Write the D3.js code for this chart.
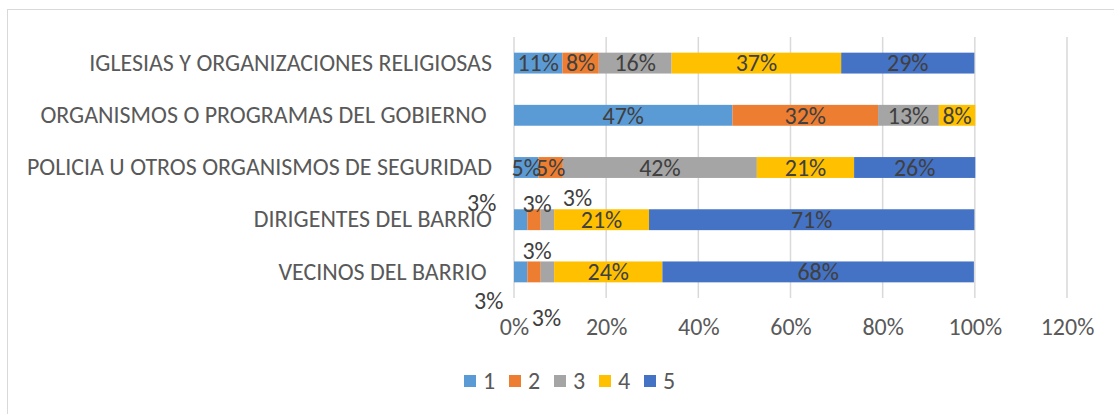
<!DOCTYPE html>
<html>
<head>
<meta charset="utf-8">
<script src="https://cdn.jsdelivr.net/npm/d3@7"></script>
<style>
  body { margin: 0; background: #fff; }
  svg { display: block; }
  text { font-family: Carlito, Calibri, Lato, sans-serif; white-space: pre; }
</style>
</head>
<body>
<script>
// categories top to bottom, as in the chart
const categories = [
    "IGLESIAS Y ORGANIZACIONES RELIGIOSAS",
    "ORGANISMOS O PROGRAMAS DEL GOBIERNO ",
    "POLICIA U OTROS ORGANISMOS DE SEGURIDAD",
    "DIRIGENTES DEL BARRIO",
    "VECINOS DEL BARRIO "
];
const seriesNames = ["1", "2", "3", "4", "5"];
// share of answers per category, one array per series
const s1 = [0.105, 0.474, 0.053, 0.029, 0.029];
const s2 = [0.079, 0.316, 0.053, 0.029, 0.029];
const s3 = [0.158, 0.132, 0.421, 0.029, 0.029];
const s4 = [0.368, 0.079, 0.211, 0.206, 0.235];
const s5 = [0.289, 0.000, 0.263, 0.706, 0.676];
const xTicks = [0, 0.2, 0.4, 0.6, 0.8, 1.0, 1.2];

const colors = ["#5B9BD5", "#ED7D31", "#A5A5A5", "#FFC000", "#4472C4"];

const width = 1114, height = 414;

const svg = d3.select("body").append("svg")
    .attr("width", width)
    .attr("height", height);

// chart frame
svg.append("rect")
    .attr("x", 7.5).attr("y", 9.5)
    .attr("width", width + 20).attr("height", height + 20)
    .attr("fill", "none").attr("stroke", "#d9d9d9");

// pick a font size so the text is as wide as the original Calibri
const probe = svg.append("text").attr("font-size", 24).text(categories[0]);
const fs = 24 * 403 / probe.node().getComputedTextLength();
probe.remove();

const x = d3.scaleLinear().domain([0, 1.2]).range([514, 1067]);
const y = d3.scaleBand().domain(categories).range([37, 298])
    .paddingInner(0.6).paddingOuter(0.3);

// gridlines
svg.append("g").selectAll("line")
    .data(xTicks)
    .enter().append("line")
    .attr("x1", d => x(d)).attr("x2", d => x(d))
    .attr("y1", 37).attr("y2", 298)
    .attr("stroke", "#d9d9d9")
    .attr("stroke-width", 1.5);

// x axis labels
const xAxis = d3.axisBottom(x).tickValues(xTicks).tickFormat(d3.format(".0%")).tickSize(0).tickPadding(0);
const gx = svg.append("g").attr("transform", "translate(0,318)").call(xAxis);
gx.select(".domain").remove();
gx.selectAll("text")
    .attr("font-size", fs)
    .attr("fill", "#595959")
    .attr("font-family", null);

// category labels
const yAxis = d3.axisLeft(y).tickSize(0).tickPadding(0);
const gy = svg.append("g").attr("transform", "translate(492,0)").call(yAxis);
gy.select(".domain").remove();
gy.selectAll("text")
    .attr("font-size", fs)
    .attr("fill", "#595959")
    .attr("font-family", null);

// stacked data
const table = categories.map((c, i) => ({
    cat: c, "1": s1[i], "2": s2[i], "3": s3[i], "4": s4[i], "5": s5[i]
}));
const stack = d3.stack().keys(seriesNames);
const layers = stack(table);

const layer = svg.append("g").selectAll("g")
    .data(layers)
    .enter().append("g")
    .attr("fill", (d, i) => colors[i]);

layer.selectAll("rect")
    .data(d => d)
    .enter().append("rect")
    .attr("x", d => x(d[0]))
    .attr("y", d => y(d.data.cat))
    .attr("width", d => x(d[1]) - x(d[0]))
    .attr("height", y.bandwidth());

// labels that were dragged off the small segments in the original
const nudges = {
    "3-0": [-39, -17], "3-1": [3, -16], "3-2": [30, -22],
    "4-0": [-32, 29], "4-1": [3, -21], "4-2": [-1, 46]
};

layers.forEach((ly, si) => {
    svg.append("g").selectAll("text")
        .data(ly.filter(d => d[1] - d[0] > 0))
        .enter().append("text")
        .attr("x", d => {
            const n = nudges[categories.indexOf(d.data.cat) + "-" + si];
            return (x(d[0]) + x(d[1])) / 2 + (n ? n[0] : 0);
        })
        .attr("y", d => {
            const n = nudges[categories.indexOf(d.data.cat) + "-" + si];
            return y(d.data.cat) + y.bandwidth() / 2 + (n ? n[1] : 0);
        })
        .attr("dy", "0.35em")
        .attr("text-anchor", "middle")
        .attr("font-size", fs)
        .attr("fill", "#404040")
        .text(d => d3.format(".0%")(d[1] - d[0]));
});

// legend
const legend = svg.append("g").selectAll("g")
    .data(seriesNames)
    .enter().append("g")
    .attr("transform", (d, i) => `translate(${464 + i * 45},381)`);

legend.append("rect")
    .attr("x", 0).attr("y", -6)
    .attr("width", 12).attr("height", 12)
    .attr("fill", (d, i) => colors[i]);

legend.append("text")
    .attr("x", 19)
    .attr("dy", "0.35em")
    .attr("font-size", fs)
    .attr("fill", "#595959")
    .text(d => d);
</script>
</body>
</html>
